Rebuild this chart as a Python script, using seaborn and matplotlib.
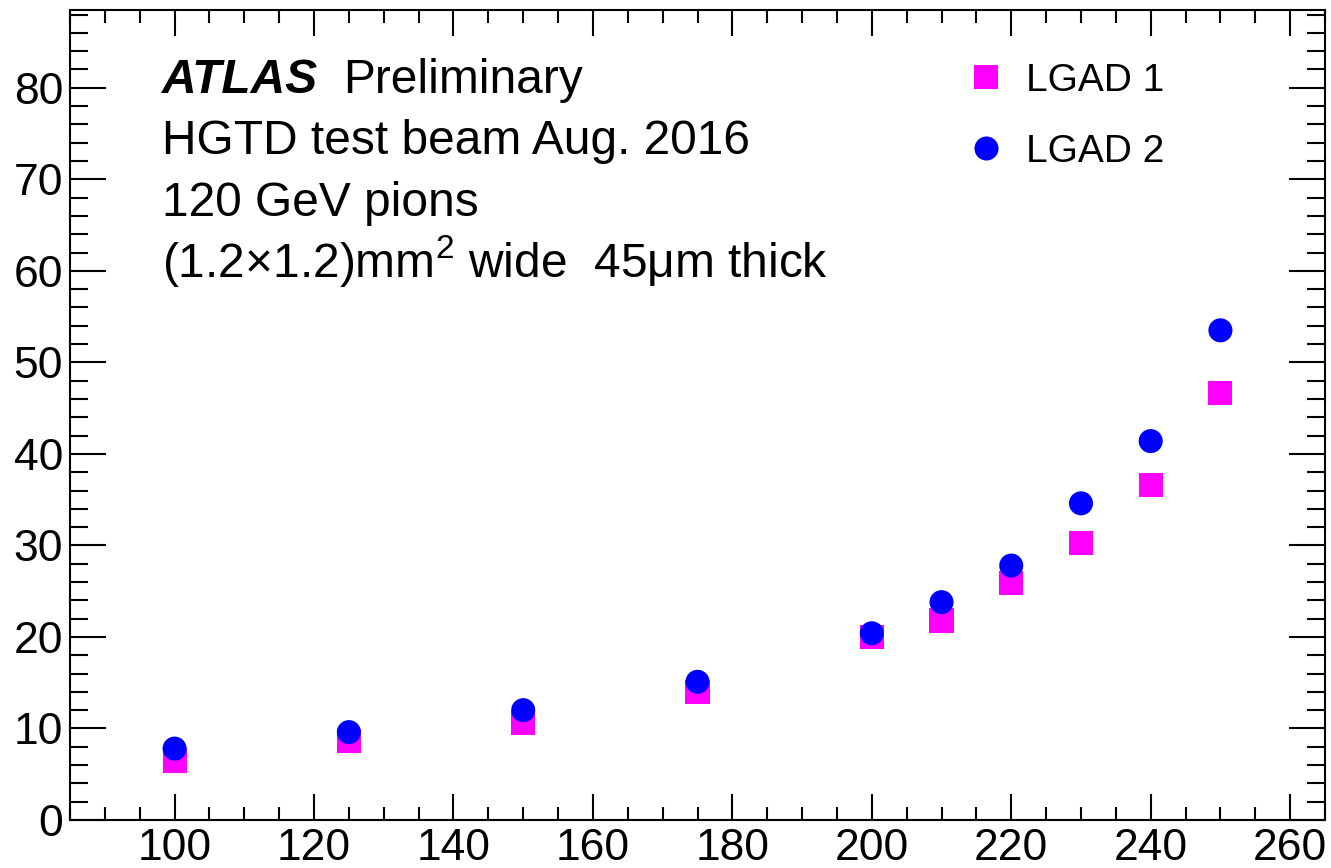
import numpy as np
import pandas as pd
import matplotlib
matplotlib.use('Agg')
import matplotlib.pyplot as plt
from matplotlib.ticker import MultipleLocator
import seaborn as sns

# ============================================================
# Data
# ============================================================
voltage = [100, 125, 150, 175, 200, 210, 220, 230, 240, 250]
lgad1 = [6.5, 8.6, 10.6, 14.0, 20.0, 21.8, 25.9, 30.3, 36.6, 46.7]
lgad2 = [7.8, 9.6, 12.0, 15.1, 20.4, 23.8, 27.8, 34.6, 41.4, 53.5]
labels = ['LGAD 1', 'LGAD 2']

df = pd.DataFrame({
    'x': voltage * 2,
    'y': lgad1 + lgad2,
    'sensor': [labels[0]] * len(voltage) + [labels[1]] * len(voltage),
})

sns.set_style('ticks')
plt.rcParams['font.family'] = ['Liberation Sans', 'DejaVu Sans']
plt.rcParams['text.color'] = 'black'
plt.rcParams['mathtext.fontset'] = 'custom'
plt.rcParams['mathtext.rm'] = 'Liberation Sans'
plt.rcParams['mathtext.default'] = 'rm'

fig = plt.figure(figsize=(13.31, 8.68), dpi=100)
ax = fig.add_axes([70 / 1331, 48 / 868, 1255 / 1331, 810 / 868])

sns.scatterplot(data=df, x='x', y='y', hue='sensor', style='sensor',
                markers={'LGAD 1': 's', 'LGAD 2': 'o'},
                palette={'LGAD 1': '#ff00ff', 'LGAD 2': '#0000ff'},
                s=300, linewidth=0, ax=ax)

ax.set_xlim(85, 265)
ax.set_ylim(0, 88.5)
ax.set_xlabel('')
ax.set_ylabel('')
ax.xaxis.set_major_locator(MultipleLocator(20))
ax.xaxis.set_minor_locator(MultipleLocator(5))
ax.yaxis.set_major_locator(MultipleLocator(10))
ax.yaxis.set_minor_locator(MultipleLocator(2))

for s in ax.spines.values():
    s.set_visible(True)
    s.set_linewidth(1.5)
    s.set_color('black')
ax.tick_params(which='both', direction='in', top=True, right=True, width=1.5,
               labelsize=32, colors='black')
ax.tick_params(axis='x', which='major', length=18.5, pad=6)
ax.tick_params(axis='x', which='minor', length=9.3)
ax.tick_params(axis='y', which='major', length=26, pad=5)
ax.tick_params(axis='y', which='minor', length=13)

# ============================================================
# Annotations
# ============================================================
fs = 34.5
ax.text(0.0733, 0.897, 'ATLAS', transform=ax.transAxes, fontsize=fs,
        fontweight='bold', fontstyle='italic', color='black')
ax.text(0.2175, 0.897, 'Preliminary', transform=ax.transAxes, fontsize=fs,
        color='black')
ax.text(0.0733, 0.822, 'HGTD test beam Aug. 2016', transform=ax.transAxes,
        fontsize=fs, color='black')
ax.text(0.0733, 0.746, '120 GeV pions', transform=ax.transAxes, fontsize=fs,
        color='black')
ax.text(0.0733, 0.670, '(1.2\u00d71.2)mm$^{2}$ wide  45\u03bcm thick',
        transform=ax.transAxes, fontsize=fs, color='black')

handles, labs = ax.get_legend_handles_labels()
leg = ax.legend(handles, labs, loc='upper left', bbox_to_anchor=(0.7187, 0.935),
                frameon=False, fontsize=28, handlelength=0.7, handletextpad=0.7,
                borderpad=0, borderaxespad=0, labelspacing=0.9, markerscale=1.0)
for t in leg.get_texts():
    t.set_color('black')

plt.savefig('out.png', dpi=100)
